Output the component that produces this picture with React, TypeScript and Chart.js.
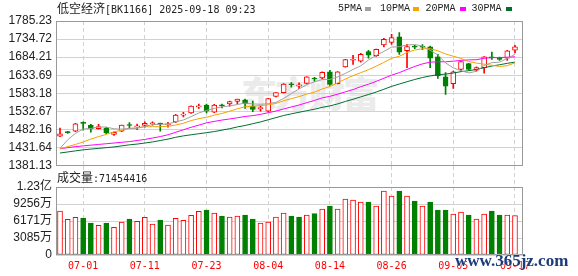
import React, { useEffect, useRef } from 'react';
import { Chart, registerables } from 'chart.js';

Chart.register(...registerables);

// ---------- data ----------
const title = '低空经济';
const titleCode = '[BK1166] 2025-09-18 09:23';

const dates = [
  '06-26', '06-27', '06-30', '07-01', '07-02', '07-03', '07-04', '07-07', '07-08', '07-09',
  '07-10', '07-11', '07-14', '07-15', '07-16', '07-17', '07-18', '07-21', '07-22', '07-23',
  '07-24', '07-25', '07-28', '07-29', '07-30', '07-31', '08-01', '08-04', '08-05', '08-06',
  '08-07', '08-08', '08-11', '08-12', '08-13', '08-14', '08-15', '08-18', '08-19', '08-20',
  '08-21', '08-22', '08-25', '08-26', '08-27', '08-28', '08-29', '09-01', '09-02', '09-03',
  '09-04', '09-05', '09-08', '09-09', '09-10', '09-11', '09-12', '09-15', '09-16', '09-17',
];

const xTickLabels = ['07-01', '07-11', '07-23', '08-04', '08-14', '08-26', '09-05', '09-17'];

const opens = [
  1463, 1475, 1477, 1502, 1494, 1484, 1485, 1468, 1477, 1495,
  1489, 1493, 1498, 1499, 1495, 1503, 1522, 1528, 1545, 1550,
  1530, 1550, 1553, 1560, 1565, 1547, 1540, 1533, 1574, 1585,
  1609, 1603, 1611, 1625, 1626, 1643, 1610, 1657, 1676, 1673,
  1700, 1688, 1718, 1725, 1741, 1702, 1714, 1715, 1713, 1685,
  1629, 1610, 1650, 1666, 1648, 1655, 1684, 1680, 1681, 1704,
];
const highs = [
  1486, 1477, 1499, 1503, 1496, 1496, 1488, 1475, 1494, 1501,
  1497, 1503, 1503, 1500, 1502, 1524, 1530, 1548, 1553, 1553,
  1552, 1553, 1561, 1567, 1567, 1561, 1548, 1569, 1585, 1610,
  1613, 1612, 1630, 1628, 1643, 1647, 1644, 1678, 1689, 1695,
  1703, 1707, 1737, 1748, 1753, 1720, 1717, 1719, 1715, 1692,
  1641, 1645, 1672, 1667, 1657, 1686, 1698, 1684, 1703, 1717,
];
const lows = [
  1462, 1471, 1476, 1480, 1474, 1483, 1470, 1465, 1476, 1486,
  1481, 1488, 1494, 1477, 1488, 1501, 1517, 1527, 1541, 1528,
  1529, 1542, 1547, 1553, 1541, 1532, 1533, 1532, 1573, 1584,
  1600, 1596, 1609, 1617, 1624, 1605, 1609, 1656, 1664, 1670,
  1681, 1686, 1713, 1720, 1692, 1655, 1708, 1705, 1655, 1625,
  1580, 1597, 1645, 1648, 1645, 1639, 1678, 1675, 1675, 1696,
];
const closes = [
  1470, 1473, 1498, 1499, 1484, 1490, 1472, 1474, 1494, 1493,
  1492, 1499, 1500, 1497, 1498, 1522, 1525, 1547, 1548, 1533,
  1550, 1548, 1560, 1567, 1554, 1538, 1543, 1568, 1585, 1609,
  1607, 1607, 1629, 1623, 1642, 1608, 1643, 1677, 1679, 1692,
  1690, 1706, 1734, 1739, 1698, 1714, 1712, 1712, 1681, 1632,
  1603, 1643, 1672, 1650, 1655, 1685, 1682, 1678, 1702, 1713,
];

const ma5 = [
  1429, 1453, 1471, 1483, 1484.8, 1488.8, 1488.6, 1483.8, 1482.8, 1484.6,
  1485, 1490.4, 1495.6, 1496.2, 1497.2, 1503.2, 1508.4, 1517.8, 1528, 1535,
  1540.6, 1545.2, 1547.8, 1551.6, 1555.8, 1553.4, 1552.4, 1554, 1557.6, 1568.6,
  1582.4, 1595.2, 1607.4, 1615, 1621.6, 1621.8, 1629, 1638.6, 1649.8, 1659.8,
  1676.2, 1688.8, 1700.2, 1712.2, 1713.4, 1718.2, 1719.4, 1715, 1703.4, 1690.2,
  1668, 1654.2, 1646.2, 1640, 1644.6, 1661, 1668.8, 1670, 1680.4, 1692,
];
const ma10 = [
  1428, 1434, 1440, 1447, 1455, 1462, 1468, 1475, 1480, 1484.7,
  1486.9, 1489.5, 1489.7, 1489.5, 1490.9, 1494.1, 1499.4, 1506.7, 1512.1, 1516.1,
  1521.9, 1526.8, 1532.8, 1539.8, 1545.4, 1547, 1548.8, 1550.9, 1554.6, 1562.2,
  1567.9, 1573.8, 1580.7, 1586.3, 1595.1, 1602.1, 1612.1, 1623, 1632.4, 1640.7,
  1649, 1658.9, 1669.4, 1681, 1686.6, 1697.2, 1704.1, 1707.6, 1707.8, 1701.8,
  1693.1, 1686.8, 1680.6, 1671.7, 1667.4, 1664.5, 1661.5, 1658.1, 1660.2, 1668.3,
];
const ma20 = [
  1428, 1431, 1434, 1436, 1438, 1440, 1442, 1444, 1446, 1448,
  1451, 1454, 1458, 1462, 1467, 1474, 1481, 1488, 1494, 1500.4,
  1504.4, 1508.2, 1511.3, 1514.7, 1518.2, 1520.6, 1524.1, 1528.8, 1533.4, 1539.2,
  1544.9, 1550.3, 1556.8, 1563, 1570.3, 1574.6, 1580.5, 1587, 1593.5, 1601.5,
  1608.5, 1616.4, 1625.1, 1633.7, 1640.9, 1649.7, 1658.1, 1665.3, 1670.1, 1671.3,
  1671.1, 1672.9, 1675, 1676.4, 1677, 1680.9, 1682.8, 1682.9, 1684, 1685.1,
];
const ma30 = [
  1416, 1419, 1422, 1425, 1427, 1429, 1431, 1433, 1436, 1439,
  1441, 1444, 1447, 1451, 1455, 1460, 1464, 1467, 1470, 1473,
  1476, 1480, 1484, 1489, 1493, 1498, 1503, 1509, 1515, 1521,
  1525.6, 1530, 1534.4, 1538.5, 1543.8, 1547.7, 1553.4, 1560.2, 1566.4, 1573,
  1579.6, 1586.5, 1594.3, 1602.4, 1609, 1615.4, 1621.7, 1627.2, 1631.6, 1634.9,
  1636.7, 1639.8, 1643.6, 1646.3, 1649.7, 1654.6, 1659.2, 1662.9, 1666.8, 1670.3,
];

const volumes = [
  79860000, 64730000, 68360000, 67150000, 58080000, 53840000, 58080000, 50220000, 59890000, 65340000,
  61100000, 68360000, 56260000, 63520000, 54450000, 66540000, 62910000, 71980000, 79250000, 81680000,
  76230000, 70790000, 68970000, 70790000, 72600000, 65340000, 58080000, 59890000, 68970000, 76230000,
  70790000, 68970000, 72600000, 75020000, 83490000, 88940000, 83490000, 101640000, 99820000, 96190000,
  96190000, 88940000, 116160000, 107080000, 116160000, 107080000, 98000000, 88940000, 96190000, 81680000,
  81680000, 74410000, 78040000, 72600000, 65340000, 74410000, 79860000, 72600000, 72600000, 71454416,
];
// 1 = red (up) bar, 0 = green (down) bar, as coloured in the volume panel
const volumeUp = [
  1, 1, 1, 0, 0, 1, 0, 1, 1, 0,
  1, 1, 1, 0, 1, 1, 1, 1, 1, 0,
  1, 0, 1, 1, 0, 0, 1, 1, 1, 1,
  0, 0, 1, 0, 1, 0, 1, 1, 1, 1,
  0, 1, 1, 1, 0, 1, 0, 1, 0, 0,
  0, 1, 1, 0, 1, 1, 0, 0, 1, 1,
];

const priceTicks = [1381.13, 1431.64, 1482.16, 1532.67, 1583.18, 1633.69, 1684.21, 1734.72, 1785.23];
const volumeTicks = [0, 30855000, 61710000, 92565000, 123420000];
const volumeTickLabels = ['0', '3085万', '6171万', '9256万', '1.23亿'];

const maNames = ['5PMA', '10PMA', '20PMA', '30PMA'];
const maSeries = [ma5, ma10, ma20, ma30];

// ---------- style ----------
const RED = '#ff0000';
const GREEN = '#008000';
const MA_COLORS = ['#a0a0a0', '#f5a300', '#ff00ff', '#006e2e'];
const GRID = '#d2d2d2';
const FRAME = '#999999';
const CJK = "'Noto Sans CJK SC', sans-serif";
const MONO = "'DejaVu Sans Mono', monospace";
const LMONO = "'Liberation Mono', monospace";
const SANS = "'Liberation Sans', 'Noto Sans CJK SC', sans-serif";
const X_MIN = -0.52;
const X_MAX = 60.04;

const tickIndexes = xTickLabels.map((l) => dates.indexOf(l));

const framePlugin = {
  id: 'frame',
  afterDraw(chart: any) {
    const { ctx, chartArea: a } = chart;
    ctx.save();
    ctx.strokeStyle = FRAME;
    ctx.lineWidth = 1;
    const l = Math.round(a.left) + 0.5;
    const t = Math.round(a.top) + 0.5;
    const r = Math.round(a.right) - 0.5;
    const b = Math.round(a.bottom) - 0.5;
    ctx.strokeRect(l, t, r - l, b - t);
    ctx.restore();
  },
};

export default function App() {
  const priceRef = useRef<HTMLCanvasElement>(null);
  const volRef = useRef<HTMLCanvasElement>(null);

  useEffect(() => {
    const up = closes.map((c, i) => c >= opens[i]);
    const candleColor = up.map((u) => (u ? RED : GREEN));

    const priceChart = new Chart(priceRef.current as HTMLCanvasElement, {
      type: 'bar',
      data: {
        datasets: [
          ...maSeries.map((s, k) => ({
            type: 'line' as const,
            label: maNames[k],
            data: s.map((v, i) => ({ x: i, y: v })),
            borderColor: MA_COLORS[k],
            borderWidth: 1,
            pointRadius: 0,
            tension: 0,
            order: 0,
          })),
          {
            type: 'bar' as const,
            label: 'body',
            data: opens.map((o, i) => ({ x: i, y: [o, closes[i]] })),
            backgroundColor: up.map((u) => (u ? '#ffffff' : GREEN)),
            borderColor: candleColor,
            borderWidth: 1,
            borderSkipped: false,
            barThickness: 5,
            minBarLength: 1,
            grouped: false,
            order: 1,
          },
          {
            type: 'bar' as const,
            label: 'wick',
            data: lows.map((l, i) => ({ x: i, y: [l, highs[i]] })),
            backgroundColor: candleColor,
            borderWidth: 0,
            barThickness: 1,
            grouped: false,
            order: 2,
          },
        ] as any,
      },
      options: {
        animation: false,
        responsive: false,
        maintainAspectRatio: false,
        events: [],
        layout: { padding: { left: 0, right: 55, top: 21, bottom: 0 } },
        plugins: { legend: { display: false }, tooltip: { enabled: false } },
        scales: {
          x: {
            type: 'linear',
            min: X_MIN,
            max: X_MAX,
            offset: false,
            bounds: 'data',
            afterBuildTicks: (s: any) => {
              s.ticks = tickIndexes.map((v) => ({ value: v }));
            },
            afterFit: (s: any) => {
              s.height = 21.5;
            },
            ticks: { display: false },
            grid: {
              offset: false,
              color: GRID,
              drawTicks: true,
              tickLength: 22,
              tickColor: GRID,
              tickBorderDash: [4, 3],
            },
            border: { display: false, dash: [4, 3] },
          },
          y: {
            type: 'linear',
            min: priceTicks[0],
            max: priceTicks[priceTicks.length - 1],
            afterBuildTicks: (s: any) => {
              s.ticks = priceTicks.map((v) => ({ value: v }));
            },
            afterFit: (s: any) => {
              s.width = 56;
            },
            ticks: {
              color: '#222',
              padding: 4,
              autoSkip: false,
              font: { family: SANS, size: 12 },
              callback: (v: any) => Number(v).toFixed(2),
            },
            grid: { color: GRID, drawTicks: false },
            border: { display: false },
          },
        },
      } as any,
      plugins: [framePlugin],
    });

    const volChart = new Chart(volRef.current as HTMLCanvasElement, {
      type: 'bar',
      data: {
        datasets: [
          {
            label: '成交量',
            data: volumes.map((v, i) => ({ x: i, y: v })),
            backgroundColor: volumeUp.map((u) => (u ? '#ffffff' : GREEN)),
            borderColor: volumeUp.map((u) => (u ? RED : GREEN)),
            borderWidth: 1,
            borderSkipped: false,
            barThickness: 5,
            grouped: false,
          },
        ] as any,
      },
      options: {
        animation: false,
        responsive: false,
        maintainAspectRatio: false,
        events: [],
        layout: { padding: { left: 0, right: 55, top: 21, bottom: 0 } },
        plugins: { legend: { display: false }, tooltip: { enabled: false } },
        scales: {
          x: {
            type: 'linear',
            min: X_MIN,
            max: X_MAX,
            offset: false,
            bounds: 'data',
            afterBuildTicks: (s: any) => {
              s.ticks = tickIndexes.map((v) => ({ value: v }));
            },
            afterFit: (s: any) => {
              s.height = 21;
            },
            ticks: {
              color: RED,
              padding: 5,
              autoSkip: false,
              maxRotation: 0,
              font: { family: MONO, size: 10 },
              callback: (v: any) => dates[Number(v)],
            },
            grid: { offset: false, color: GRID, drawTicks: false },
            border: { display: false, dash: [4, 3] },
          },
          y: {
            type: 'linear',
            min: volumeTicks[0],
            max: volumeTicks[volumeTicks.length - 1],
            afterBuildTicks: (s: any) => {
              s.ticks = volumeTicks.map((v) => ({ value: v }));
            },
            afterFit: (s: any) => {
              s.width = 56;
            },
            ticks: {
              color: '#222',
              padding: 4,
              autoSkip: false,
              font: { family: SANS, size: 12 },
              callback: (v: any) => volumeTickLabels[volumeTicks.indexOf(Number(v))],
            },
            grid: { color: GRID, drawTicks: false },
            border: { display: false },
          },
        },
      } as any,
      plugins: [framePlugin],
    });

    return () => {
      priceChart.destroy();
      volChart.destroy();
    };
  }, []);

  const legendText = [338, 380, 425.5, 471.5];
  const legendBox = [365, 413, 459.5, 506];

  return (
    <div
      style={{
        position: 'fixed',
        left: 0,
        top: 0,
        width: 578,
        height: 276,
        background: '#ffffff',
        overflow: 'hidden',
      }}
    >
      <div
        style={{
          position: 'absolute',
          left: 241,
          top: 73,
          fontFamily: CJK,
          fontWeight: 900,
          fontSize: 36,
          lineHeight: '38px',
          letterSpacing: -2,
          color: '#ebebeb',
          whiteSpace: 'nowrap',
        }}
      >
        东方财富
      </div>
      <canvas
        ref={priceRef}
        width={578}
        height={187}
        style={{ position: 'absolute', left: 0, top: 0, width: 578, height: 187 }}
      />
      <canvas
        ref={volRef}
        width={578}
        height={110}
        style={{ position: 'absolute', left: 0, top: 166, width: 578, height: 110 }}
      />
      <div
        style={{
          position: 'absolute',
          left: 57,
          top: 1,
          fontSize: 12,
          lineHeight: '13px',
          color: '#222',
          whiteSpace: 'nowrap',
        }}
      >
        <span style={{ fontFamily: CJK }}>{title}</span>
        <span style={{ fontFamily: MONO, fontSize: 10 }}>{titleCode}</span>
      </div>
      {maNames.map((n, k) => (
        <React.Fragment key={n}>
          <div
            style={{
              position: 'absolute',
              left: legendText[k],
              top: 2,
              fontFamily: LMONO,
              fontSize: 10,
              lineHeight: '13px',
              color: '#222',
              whiteSpace: 'nowrap',
            }}
          >
            {n}
          </div>
          <div
            style={{
              position: 'absolute',
              left: legendBox[k],
              top: 7,
              width: 6,
              height: 4,
              background: MA_COLORS[k],
            }}
          />
        </React.Fragment>
      ))}
      <div
        style={{
          position: 'absolute',
          left: 57,
          top: 170,
          fontSize: 12,
          lineHeight: '13px',
          color: '#222',
          whiteSpace: 'nowrap',
        }}
      >
        <span style={{ fontFamily: CJK }}>成交量</span>
        <span style={{ fontFamily: MONO, fontSize: 10 }}>:{volumes[volumes.length - 1]}</span>
      </div>
      <div
        style={{
          position: 'absolute',
          left: 455,
          top: 252,
          fontFamily: "'Liberation Serif', serif",
          fontWeight: 700,
          fontSize: 17,
          lineHeight: '17px',
          color: '#1d3b7a',
          textShadow: '0 0 2px #ffffff, 0 0 1px #ffffff',
          whiteSpace: 'nowrap',
        }}
      >
        www.365jz.com
      </div>
    </div>
  );
}
